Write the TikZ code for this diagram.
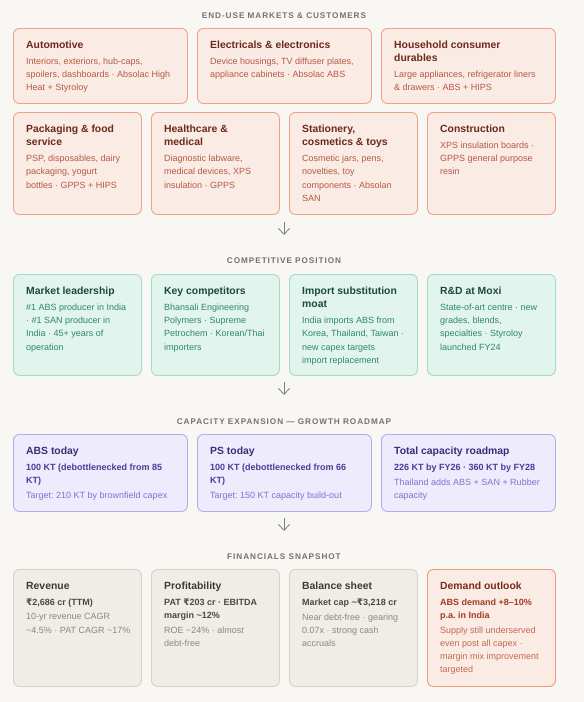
\documentclass[tikz,border=0pt]{standalone}
\usepackage{fontspec}
\setmainfont{Liberation Sans}
\newfontfamily\rupeefont{DejaVu Sans}
\usepackage{tikz}
\usetikzlibrary{arrows.meta}
\frenchspacing
\definecolor{paper}{HTML}{F8F7F4}
\definecolor{hdrgray}{HTML}{73726F}
\definecolor{arrowgray}{HTML}{7C7C7A}
% end-use markets
\definecolor{peachfill}{HTML}{FBEBE5}
\definecolor{peachline}{HTML}{F0A284}
\definecolor{peachtitle}{HTML}{6B2A1A}
\definecolor{peachtext}{HTML}{B35A42}
% competitive position
\definecolor{mintfill}{HTML}{E1F5EE}
\definecolor{mintline}{HTML}{A2DCC7}
\definecolor{minttitle}{HTML}{1C4A37}
\definecolor{minttext}{HTML}{2E8766}
% capacity
\definecolor{lilacfill}{HTML}{EEEBFC}
\definecolor{lilacline}{HTML}{B5AAF1}
\definecolor{lilactitle}{HTML}{392E7A}
\definecolor{lilacstrong}{HTML}{483C99}
\definecolor{lilactext}{HTML}{7E72D2}
% financials
\definecolor{stonefill}{HTML}{F0EDE7}
\definecolor{stoneline}{HTML}{D6D2C9}
\definecolor{stonetitle}{HTML}{3C3A37}
\definecolor{stonestrong}{HTML}{4C4946}
\definecolor{stonetext}{HTML}{8B8883}
% demand outlook
\definecolor{brickline}{HTML}{EE9A7D}
\definecolor{bricktitle}{HTML}{782D1A}
\definecolor{brickstrong}{HTML}{A33C24}
\definecolor{bricktext}{HTML}{C0694F}
\newcommand{\inr}{{\rupeefont ₹}}

\begin{document}
\begin{tikzpicture}[x=1pt,y=-1pt,
  card/.style={draw,rounded corners=6pt,line width=0.9pt,anchor=north west,inner sep=0pt},
  wide/.style={card,minimum width=174pt},
  narrow/.style={card,minimum width=128pt},
  peach/.style={fill=peachfill,draw=peachline},
  mint/.style={fill=mintfill,draw=mintline},
  lilac/.style={fill=lilacfill,draw=lilacline},
  stone/.style={fill=stonefill,draw=stoneline},
  brick/.style={fill=peachfill,draw=brickline},
  ttl/.style={anchor=north west,inner sep=0pt,align=left,font=\fontsize{10.4}{13.3}\selectfont\bfseries},
  txt/.style={anchor=north west,inner sep=0pt,align=left,font=\fontsize{9}{13.2}\selectfont},
  strong/.style={txt,font=\fontsize{9}{13}\selectfont\bfseries},
  hdr/.style={inner sep=0pt,text=hdrgray,font=\fontsize{8.2}{10}\selectfont\bfseries\addfontfeatures{LetterSpace=11.5}},
  flow/.style={-{Straight Barb[length=6pt,width=11pt]},arrowgray,line width=0.8pt}]
\useasboundingbox (0,0) rectangle (584,702);
\fill[paper] (0,0) rectangle (584,702);

% end-use markets
\node[hdr] (hMarkets) at (284,16) {END-USE MARKETS \& CUSTOMERS};
\node[wide,peach,minimum height=75pt] (auto) at (13,28) {};
\node[ttl,text=peachtitle] (autoT) at (26,40.7) {Automotive};
\node[txt,text=peachtext] (autoB) at (26,57.7) {Interiors, exteriors, hub-caps,\\spoilers, dashboards · Absolac High\\Heat + Styroloy};
\node[wide,peach,minimum height=75pt] (elec) at (197,28) {};
\node[ttl,text=peachtitle] (elecT) at (210,40.7) {Electricals \& electronics};
\node[txt,text=peachtext] (elecB) at (210,57.7) {Device housings, TV diffuser plates,\\appliance cabinets · Absolac ABS};
\node[wide,peach,minimum height=75pt] (home) at (381,28) {};
\node[ttl,text=peachtitle] (homeT) at (394,40.7) {Household consumer\\durables};
\node[txt,text=peachtext] (homeB) at (394,71.0) {Large appliances, refrigerator liners\\\& drawers · ABS + HIPS};

\node[narrow,peach,minimum height=102pt] (pack) at (13,112) {};
\node[ttl,text=peachtitle] (packT) at (26,124.7) {Packaging \& food\\service};
\node[txt,text=peachtext] (packB) at (26,155.0) {PSP, disposables, dairy\\packaging, yogurt\\bottles · GPPS + HIPS};
\node[narrow,peach,minimum height=102pt] (health) at (151,112) {};
\node[ttl,text=peachtitle] (healthT) at (164,124.7) {Healthcare \&\\medical};
\node[txt,text=peachtext] (healthB) at (164,155.0) {Diagnostic labware,\\medical devices, XPS\\insulation · GPPS};
\node[narrow,peach,minimum height=102pt] (stat) at (289,112) {};
\node[ttl,text=peachtitle] (statT) at (302,124.7) {Stationery,\\cosmetics \& toys};
\node[txt,text=peachtext] (statB) at (302,155.0) {Cosmetic jars, pens,\\novelties, toy\\components · Absolan\\SAN};
\node[narrow,peach,minimum height=102pt] (build) at (427,112) {};
\node[ttl,text=peachtitle] (buildT) at (440,124.7) {Construction};
\node[txt,text=peachtext] (buildB) at (440,141.7) {XPS insulation boards ·\\GPPS general purpose\\resin};

\coordinate (flow1a) at (284,222);
\coordinate (flow1b) at (284,235);
\draw[flow] (flow1a) -- (flow1b);

% competitive position
\node[hdr] (hCompete) at (284,261) {COMPETITIVE POSITION};
\node[narrow,mint,minimum height=101pt] (lead) at (13,274) {};
\node[ttl,text=minttitle] (leadT) at (26,286.7) {Market leadership};
\node[txt,text=minttext] (leadB) at (26,303.7) {\#1 ABS producer in India\\· \#1 SAN producer in\\India · 45+ years of\\operation};
\node[narrow,mint,minimum height=101pt] (rival) at (151,274) {};
\node[ttl,text=minttitle] (rivalT) at (164,286.7) {Key competitors};
\node[txt,text=minttext] (rivalB) at (164,303.7) {Bhansali Engineering\\Polymers · Supreme\\Petrochem · Korean/Thai\\importers};
\node[narrow,mint,minimum height=101pt] (moat) at (289,274) {};
\node[ttl,text=minttitle] (moatT) at (302,286.7) {Import substitution\\moat};
\node[txt,text=minttext] (moatB) at (302,317.0) {India imports ABS from\\Korea, Thailand, Taiwan ·\\new capex targets\\import replacement};
\node[narrow,mint,minimum height=101pt] (rnd) at (427,274) {};
\node[ttl,text=minttitle] (rndT) at (440,286.7) {R\&D at Moxi};
\node[txt,text=minttext] (rndB) at (440,303.7) {State-of-art centre · new\\grades, blends,\\specialties · Styroloy\\launched FY24};

\coordinate (flow2a) at (284,382);
\coordinate (flow2b) at (284,395);
\draw[flow] (flow2a) -- (flow2b);

% capacity expansion
\node[hdr] (hCapacity) at (284,422) {CAPACITY EXPANSION — GROWTH ROADMAP};
\node[wide,lilac,minimum height=77pt] (abs) at (13,434) {};
\node[ttl,text=lilactitle] (absT) at (26,446.7) {ABS today};
\node[strong,text=lilacstrong] (absS) at (26,463.7) {100 KT (debottlenecked from 85\\KT)};
\node[txt,text=lilactext] (absB) at (26,491.5) {Target: 210 KT by brownfield capex};
\node[wide,lilac,minimum height=77pt] (ps) at (197,434) {};
\node[ttl,text=lilactitle] (psT) at (210,446.7) {PS today};
\node[strong,text=lilacstrong] (psS) at (210,463.7) {100 KT (debottlenecked from 66\\KT)};
\node[txt,text=lilactext] (psB) at (210,491.5) {Target: 150 KT capacity build-out};
\node[wide,lilac,minimum height=77pt] (total) at (381,434) {};
\node[ttl,text=lilactitle] (totalT) at (394,446.7) {Total capacity roadmap};
\node[strong,text=lilacstrong] (totalS) at (394,463.7) {226 KT by FY26 · 360 KT by FY28};
\node[txt,text=lilactext] (totalB) at (394,478.5) {Thailand adds ABS + SAN + Rubber\\capacity};

\coordinate (flow3a) at (284,518);
\coordinate (flow3b) at (284,531);
\draw[flow] (flow3a) -- (flow3b);

% financials
\node[hdr] (hFinance) at (284,557) {FINANCIALS SNAPSHOT};
\node[narrow,stone,minimum height=117pt] (rev) at (13,569) {};
\node[ttl,text=stonetitle] (revT) at (26,581.7) {Revenue};
\node[strong,text=stonestrong] (revS) at (26,598.7) {\inr2,686 cr (TTM)};
\node[txt,text=stonetext] (revB) at (26,613.5) {10-yr revenue CAGR\\\textasciitilde4.5\% · PAT CAGR \textasciitilde17\%};
\node[narrow,stone,minimum height=117pt] (profit) at (151,569) {};
\node[ttl,text=stonetitle] (profitT) at (164,581.7) {Profitability};
\node[strong,text=stonestrong] (profitS) at (164,598.7) {PAT \inr203 cr · EBITDA\\margin \textasciitilde12\%};
\node[txt,text=stonetext] (profitB) at (164,626.5) {ROE \textasciitilde24\% · almost\\debt-free};
\node[narrow,stone,minimum height=117pt] (sheet) at (289,569) {};
\node[ttl,text=stonetitle] (sheetT) at (302,581.7) {Balance sheet};
\node[strong,text=stonestrong] (sheetS) at (302,598.7) {Market cap \textasciitilde\inr3,218 cr};
\node[txt,text=stonetext] (sheetB) at (302,613.5) {Near debt-free · gearing\\0.07x · strong cash\\accruals};
\node[narrow,brick,minimum height=117pt] (demand) at (427,569) {};
\node[ttl,text=bricktitle] (demandT) at (440,581.7) {Demand outlook};
\node[strong,text=brickstrong] (demandS) at (440,598.7) {ABS demand +8–10\%\\p.a. in India};
\node[txt,text=bricktext] (demandB) at (440,626.5) {Supply still underserved\\even post all capex ·\\margin mix improvement\\targeted};
\end{tikzpicture}
\end{document}
